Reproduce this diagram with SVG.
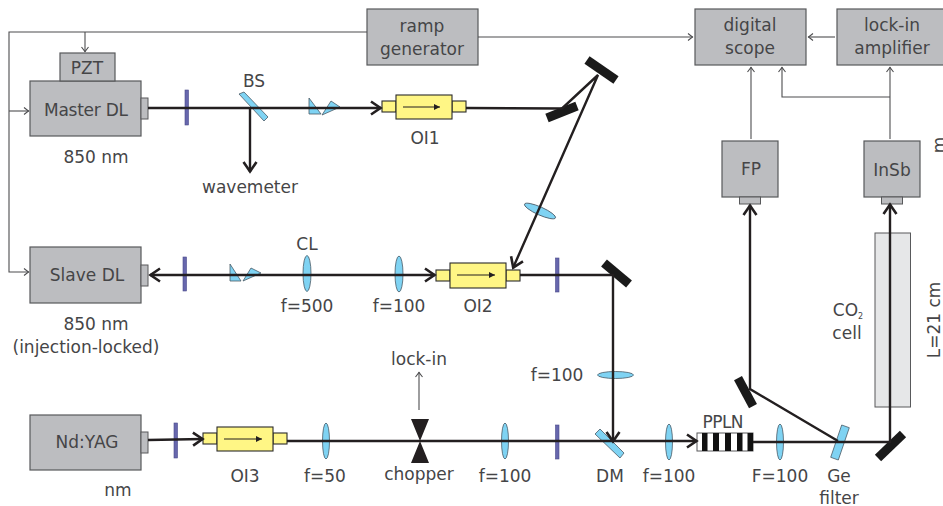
<svg xmlns="http://www.w3.org/2000/svg" width="943" height="506" viewBox="0 0 943 506">
<style>
text{font-family:"DejaVu Sans",Verdana,sans-serif;font-size:17px;fill:#454547;text-anchor:middle}
.box{fill:#bcbdc0;stroke:#58595b;stroke-width:1.2}
.port{fill:#bcbdc0;stroke:#58595b;stroke-width:1}
.oi{fill:#fff685;stroke:#2b2b2b;stroke-width:1.1}
.lens{fill:#7fd3f3;stroke:#4a5a66;stroke-width:.8}
.plate{fill:#6767ad;stroke:#4a4a8a;stroke-width:.6}
.mirror{stroke:#1a1a1a;stroke-width:9;fill:none}
.beam{stroke:#231f20;stroke-width:2.4;fill:none}
.sig{stroke:#4d4d4f;stroke-width:1.1;fill:none}
</style>
<defs>
<marker id="big" markerUnits="userSpaceOnUse" markerWidth="16" markerHeight="18" refX="12" refY="8" orient="auto"><path d="M2 1.500L11.500 8L2 14.500" fill="none" stroke="#231f20" stroke-width="2.600"/></marker>
<marker id="small" markerUnits="userSpaceOnUse" markerWidth="9" markerHeight="10" refX="7" refY="5" orient="auto"><path d="M2 1.500L6.500 5L2 8.500" fill="none" stroke="#4d4d4f" stroke-width="1.100"/></marker>
<marker id="tri" markerUnits="userSpaceOnUse" markerWidth="7" markerHeight="8" refX="6" refY="4" orient="auto"><path d="M0 1L6 4L0 7Z" fill="#231f20"/></marker>
</defs>
<g id="ramp-generator"><rect class="box" x="367" y="9" width="111" height="56"/><text x="422" y="32">ramp</text><text x="422" y="55">generator</text></g>
<g id="digital-scope"><rect class="box" x="695" y="9" width="111" height="56"/><text x="750" y="31">digital</text><text x="750" y="54">scope</text></g>
<g id="lock-in-amplifier"><rect class="box" x="837" y="9" width="111" height="56"/><text x="892" y="31">lock-in</text><text x="892" y="54">amplifier</text></g>
<g id="master-dl"><rect class="box" x="30" y="81" width="111" height="55"/><rect class="port" x="141" y="98" width="7" height="21"/><text x="86" y="116" textLength="84">Master DL</text><text x="96" y="163">850 nm</text></g>
<g id="pzt"><rect class="box" x="60" y="53" width="55" height="28"/><text x="87" y="74">PZT</text></g>
<g id="slave-dl"><rect class="box" x="30" y="247" width="111" height="56"/><rect class="port" x="141" y="265" width="7" height="21"/><text x="87" y="281">Slave DL</text><text x="96" y="330">850 nm</text><text x="86" y="353">(injection-locked)</text></g>
<g id="nd-yag"><rect class="box" x="30" y="415" width="111" height="55"/><rect class="port" x="141" y="432" width="7" height="21"/><text x="87" y="448">Nd:YAG</text><text x="118" y="496">nm</text></g>
<g id="fp"><rect class="box" x="722" y="141" width="56" height="56"/><rect class="port" x="739.500" y="197" width="21" height="7"/><text x="751" y="175">FP</text></g>
<g id="insb"><rect class="box" x="864" y="141" width="56" height="56"/><rect class="port" x="881.500" y="197" width="21" height="7"/><text x="892" y="176">InSb</text></g>
<g id="cell"><rect x="875" y="233" width="35.500" height="174" fill="#e6e7e8" stroke="#58595b" stroke-width="1"/><text x="848" y="316">CO<tspan font-size="8" dy="3">2</tspan></text><text x="847" y="339">cell</text></g>
<g id="oi1"><rect class="oi" x="382" y="101" width="14" height="11"/><rect class="oi" x="452" y="101" width="14" height="11"/><rect class="oi" x="396" y="95" width="56" height="24"/><path d="M403 107H440" stroke="#231f20" marker-end="url(#tri)"/><text x="425" y="144">OI1</text></g>
<g id="oi2"><rect class="oi" x="436" y="270" width="14" height="11"/><rect class="oi" x="506" y="270" width="14" height="11"/><rect class="oi" x="450" y="263" width="56" height="25"/><path d="M457 275H495" stroke="#231f20" marker-end="url(#tri)"/><text x="478" y="312">OI2</text></g>
<g id="oi3"><rect class="oi" x="203" y="433" width="14" height="11"/><rect class="oi" x="273" y="433" width="14" height="11"/><rect class="oi" x="217" y="427" width="56" height="24"/><path d="M224 439H262" stroke="#231f20" marker-end="url(#tri)"/><text x="245" y="482">OI3</text></g>
<g id="bs"><path class="lens" d="M239 94L244 92L268 117L264 121Z"/><text x="254" y="87">BS</text></g>
<g id="dm"><path class="lens" d="M595 434L600 429L624 453L620 458Z"/><text x="610" y="482">DM</text></g>
<g id="ge-filter"><path class="lens" d="M841.700 425L849.300 427.700L838.300 460L830.700 457.300Z"/><text x="839" y="482">Ge</text><text x="839" y="504">filter</text></g>
<g id="plates"><rect class="plate" x="185" y="90" width="3.500" height="35"/><rect class="plate" x="183" y="257" width="3.500" height="34"/><rect class="plate" x="555.500" y="258" width="3.500" height="34"/><rect class="plate" x="174" y="423" width="3.500" height="35"/><rect class="plate" x="555.500" y="425" width="3.500" height="34"/></g>
<g id="prisms"><path class="lens" d="M309 98L321 114H309Z"/><path class="lens" d="M322 115L331 101L340 107Z"/><path class="lens" d="M230 264L241 281H230Z"/><path class="lens" d="M243 281L251 268L261 273Z"/></g>
<g id="lenses"><ellipse class="lens" cx="307" cy="273.500" rx="4" ry="18"/><text x="307" y="250">CL</text><text x="307" y="312">f=500</text><ellipse class="lens" cx="399" cy="274" rx="4" ry="18"/><text x="399" y="312">f=100</text><ellipse class="lens" cx="540" cy="211" rx="17" ry="4" transform="rotate(24 540 211)"/><ellipse class="lens" cx="615.500" cy="375" rx="18" ry="3.500"/><text x="557" y="381">f=100</text><ellipse class="lens" cx="326" cy="441" rx="3.500" ry="18"/><text x="325" y="482">f=50</text><ellipse class="lens" cx="505" cy="441" rx="3.500" ry="18"/><text x="505" y="482">f=100</text><ellipse class="lens" cx="669" cy="442" rx="3.500" ry="18"/><text x="669" y="482">f=100</text><ellipse class="lens" cx="780" cy="442" rx="3.500" ry="18"/><text x="780" y="482">F=100</text></g>
<g id="chopper"><path d="M411 419H429L411 463H429Z" fill="#231f20"/><text x="419" y="480">chopper</text></g>
<g id="ppln"><rect x="697" y="433" width="56" height="18" fill="#fff" stroke="#58595b"/><path d="M702 433h5.500v18h-5.500zM713 433h6v18h-6zM725 433h6v18h-6zM737 433h5.500v18h-5.500zM747.500 433h5.500v18h-5.500z" fill="#111"/><text x="723" y="428" textLength="41">PPLN</text></g>
<g id="mirrors"><path class="mirror" d="M547 118L577 106"/><path class="mirror" d="M587 60L616 80"/><path class="mirror" d="M604 263L629 284"/><path class="mirror" d="M738 378L753 406"/><path class="mirror" d="M878 458L903 434"/></g>
<g id="connectors">
<path class="sig" d="M367 32H9V272H29" marker-end="url(#small)"/>
<path class="sig" d="M9 111H29" marker-end="url(#small)"/>
<path class="sig" d="M85 32V52" marker-end="url(#small)"/>
<path class="sig" d="M478 37H693" marker-end="url(#small)"/>
<path class="sig" d="M835 37H808" marker-end="url(#small)"/>
<path class="sig" d="M751 139V67" marker-end="url(#small)"/>
<path class="sig" d="M890 139V67" marker-end="url(#small)"/>
<path class="sig" d="M890 97H782V67" marker-end="url(#small)"/>
<path class="sig" d="M419 410V372" marker-end="url(#small)"/>
<path class="beam" d="M148 108H381" marker-end="url(#big)"/>
<path class="beam" d="M250 108V172" marker-end="url(#big)"/>
<path class="beam" d="M466 108L562 108.500L598 75L513 268" marker-end="url(#big)"/>
<path class="beam" d="M520 275H613V442" marker-end="url(#big)"/>
<path class="beam" d="M307 275H150" marker-end="url(#big)"/>
<path class="beam" d="M307 275H435" marker-end="url(#big)"/>
<path class="beam" d="M148 440L203 439" marker-end="url(#big)"/>
<path class="beam" d="M287 441H697" marker-end="url(#big)"/>
<path class="beam" d="M753 442H890V204" marker-end="url(#big)"/>
<path class="beam" d="M838 441L750 389V205" marker-end="url(#big)"/>
</g>
<g id="labels"><text x="250" y="193">wavemeter</text><text x="419" y="365">lock-in</text><text transform="translate(940 320) rotate(-90)">L=21 cm</text><text transform="translate(945 145) rotate(-90)">m</text></g>
</svg>
